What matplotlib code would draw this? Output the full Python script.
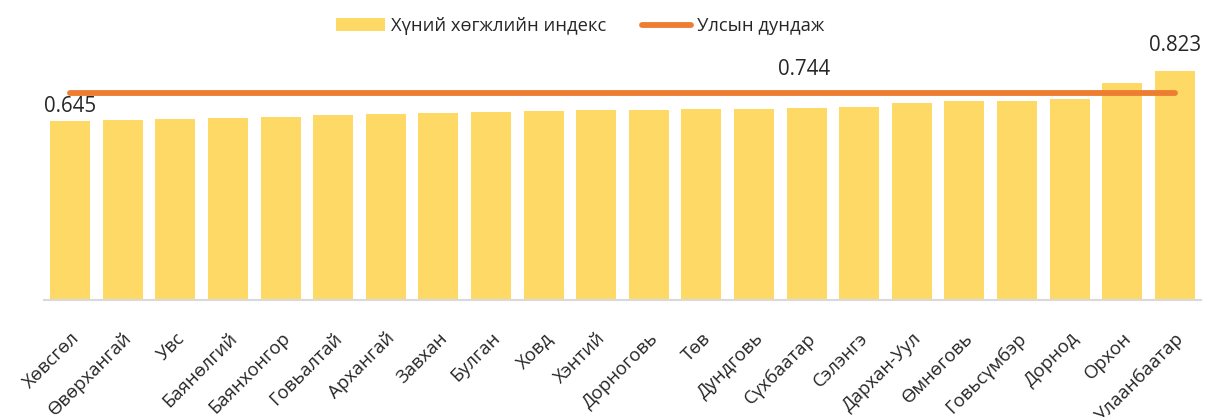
import matplotlib.pyplot as plt
from matplotlib.patches import Patch
from matplotlib.lines import Line2D

plt.rcParams['font.family'] = ['Open Sans', 'DejaVu Sans']

aimags = ['Хөвсгөл', 'Өвөрхангай', 'Увс', 'Баянөлгий', 'Баянхонгор', 'Говьалтай',
          'Архангай', 'Завхан', 'Булган', 'Ховд', 'Хэнтий', 'Дорноговь', 'Төв',
          'Дундговь', 'Сүхбаатар', 'Сэлэнгэ', 'Дархан-Уул', 'Өмнөговь', 'Говьсүмбэр',
          'Дорнод', 'Орхон', 'Улаанбаатар']
hdi = [0.645, 0.647, 0.651, 0.655, 0.657, 0.667, 0.670, 0.674, 0.675, 0.681, 0.684,
       0.685, 0.687, 0.688, 0.692, 0.695, 0.710, 0.716, 0.716, 0.724, 0.782, 0.823]
national_avg = 0.744

bar_color = '#FFD966'
line_color = '#ED7D31'
text_color = '#262626'

fig = plt.figure(figsize=(12.06, 4.17), dpi=100)
ax = fig.add_axes([44 / 1206, 117 / 417, 1157 / 1206, 250 / 417])

x = list(range(len(aimags)))
ax.bar(x, hdi, width=0.76, color=bar_color, zorder=2)
ax.plot(x, [national_avg] * len(x), color=line_color, lw=4.2,
        solid_capstyle='round', zorder=3)

ax.set_xlim(-0.5, len(aimags) - 0.5)
ax.set_ylim(0, 0.9)
ax.set_yticks([])
for s in ['top', 'right', 'left']:
    ax.spines[s].set_visible(False)
ax.spines['bottom'].set_color('#d9d9d9')
ax.spines['bottom'].set_linewidth(1.5)
ax.set_xticks(x)
ax.set_xticklabels(aimags, rotation=45, ha='right', rotation_mode='anchor',
                   fontsize=13.3, color=text_color)
ax.tick_params(axis='x', length=0, pad=21)

# data labels
ax.annotate(f'{hdi[0]:.3f}', (0, hdi[0]), xytext=(0, 2.5), textcoords='offset points',
            ha='center', va='bottom', fontsize=14.8, color=text_color)
ax.annotate(f'{hdi[-1]:.3f}', (x[-1], hdi[-1]), xytext=(0, 11), textcoords='offset points',
            ha='center', va='bottom', fontsize=14.8, color=text_color)
ax.annotate(f'{national_avg:.3f}', (14, national_avg), xytext=(-2, 9.5), textcoords='offset points',
            ha='center', va='bottom', fontsize=14.8, color=text_color)

handles = [Patch(facecolor=bar_color, edgecolor='none'),
           Line2D([0], [0], color=line_color, lw=4.2, solid_capstyle='round')]
fig.legend(handles, ['Хүний хөгжлийн индекс', 'Улсын дундаж'], loc='center',
           bbox_to_anchor=(580 / 1206, 1 - 26 / 417), ncol=2, frameon=False,
           fontsize=13.2, handlelength=2.7, handletextpad=0.3, columnspacing=1.95,
           labelcolor=text_color)

fig.savefig('out.png', dpi=100)
